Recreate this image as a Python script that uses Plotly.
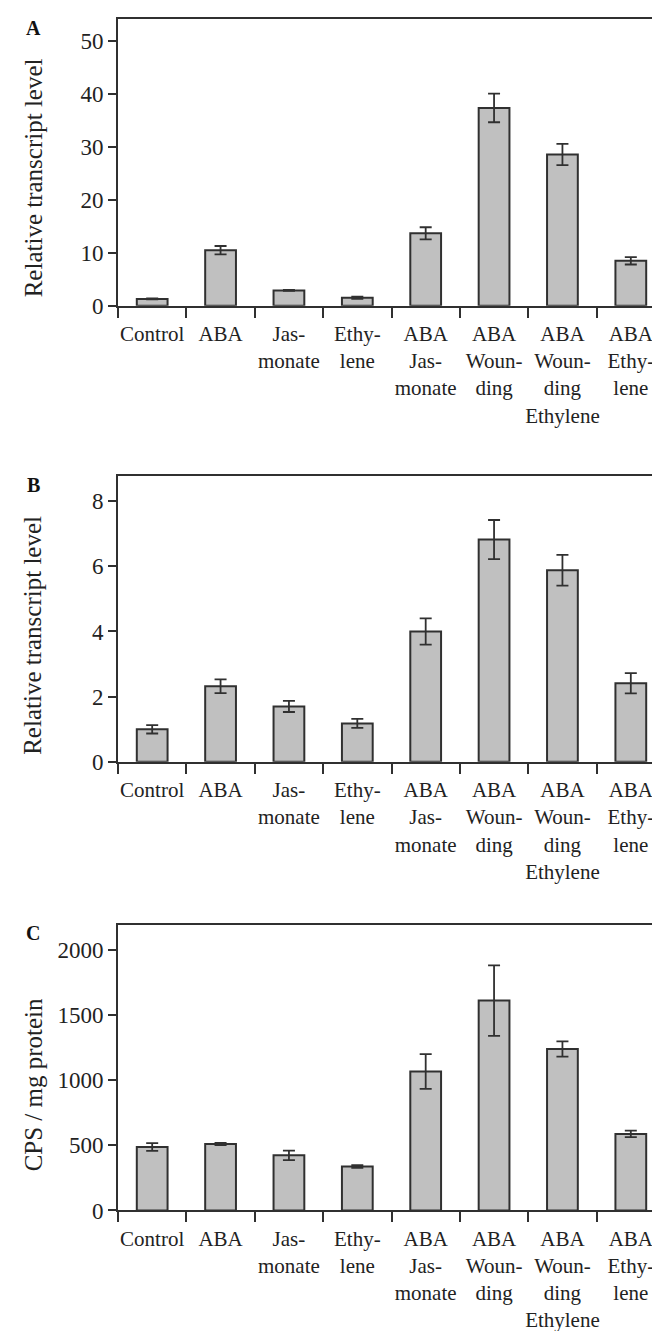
import plotly.graph_objects as go

categories = ["Control", "ABA", "Jasmonate", "Ethylene", "ABA Jasmonate",
              "ABA Wounding", "ABA Wounding Ethylene", "ABA Ethylene"]
tick_labels = ["Control", "ABA", "Jas-<br>monate", "Ethy-<br>lene",
               "ABA<br>Jas-<br>monate", "ABA<br>Woun-<br>ding",
               "ABA<br>Woun-<br>ding<br>Ethylene", "ABA<br>Ethy-<br>lene"]

a_vals = [1.3, 10.5, 2.9, 1.5, 13.7, 37.4, 28.6, 8.5]
a_err = [0.1, 0.8, 0.1, 0.2, 1.15, 2.7, 2.0, 0.7]
b_vals = [1.0, 2.32, 1.70, 1.18, 4.0, 6.82, 5.88, 2.41]
b_err = [0.13, 0.21, 0.17, 0.14, 0.40, 0.60, 0.47, 0.31]
c_vals = [487, 510, 423, 337, 1067, 1612, 1240, 588]
c_err = [30, 8, 37, 10, 133, 271, 58, 25]

panel_letters = ["A", "B", "C"]
y_titles = ["Relative transcript level", "Relative transcript level", "CPS / mg protein"]
y_ranges = [[0, 54.25], [0, 8.78], [0, 2195]]
y_dticks = [10, 2, 500]

W, H = 660, 1331
FONT = "Liberation Serif"
LINE = "#303030"

# pixel layout (top of frame, zero line)
tops = [11, 472.3, 925.7]
bottoms = [300.7, 761.3, 1214.3]
left_px, right_px = 110, 657
title_cy = [172, 634, 1088]
letter_cy = [20, 482, 934]

fig = go.Figure()
series = [(a_vals, a_err), (b_vals, b_err), (c_vals, c_err)]
for i, (vals, errs) in enumerate(series):
    n = i + 1
    fig.add_trace(go.Bar(
        x=tick_labels, y=vals,
        error_y=dict(type="data", array=errs, visible=True, color=LINE,
                     thickness=1.8, width=6),
        marker=dict(color="#c0c0c0", line=dict(color=LINE, width=2)),
        xaxis="x" if n == 1 else f"x{n}",
        yaxis="y" if n == 1 else f"y{n}",
        showlegend=False,
        hovertext=categories,
    ))

layout = dict(
    width=W, height=H,
    margin=dict(l=0, r=0, t=0, b=0),
    paper_bgcolor="white", plot_bgcolor="white",
    bargap=0.55,
    font=dict(family=FONT, size=22, color="#222222"),
    annotations=[],
)
for i in range(3):
    n = i + 1
    xk = "xaxis" if n == 1 else f"xaxis{n}"
    yk = "yaxis" if n == 1 else f"yaxis{n}"
    ya = "y" if n == 1 else f"y{n}"
    xa = "x" if n == 1 else f"x{n}"
    layout[xk] = dict(
        domain=[left_px / W, right_px / W],
        anchor=ya, type="category",
        showline=True, linecolor=LINE, linewidth=1.8, mirror=True,
        ticks="outside", ticklen=10, tickwidth=1.6, tickcolor=LINE,
        tickson="boundaries", showgrid=False, tickangle=0,
        ticklabelstandoff=8,
        tickfont=dict(family=FONT, size=21, color="#222222"),
        fixedrange=True,
    )
    layout[yk] = dict(
        domain=[1 - bottoms[i] / H, 1 - tops[i] / H],
        anchor=xa, range=y_ranges[i], dtick=y_dticks[i], tick0=0,
        showline=True, linecolor=LINE, linewidth=1.8, mirror=True,
        ticks="outside", ticklen=8, tickwidth=1.6, tickcolor=LINE,
        showgrid=False, zeroline=False,
        tickfont=dict(family=FONT, size=23, color="#222222"),
        fixedrange=True,
    )
    layout["annotations"].append(dict(
        text=y_titles[i], textangle=-90, showarrow=False,
        xref="paper", yref="paper", x=25 / W, y=1 - title_cy[i] / H,
        xanchor="center", yanchor="middle",
        font=dict(family=FONT, size=25, color="#222222"),
    ))
    layout["annotations"].append(dict(
        text="<b>" + panel_letters[i] + "</b>", showarrow=False,
        xref="paper", yref="paper", x=25 / W, y=1 - letter_cy[i] / H,
        xanchor="center", yanchor="middle",
        font=dict(family=FONT, size=20, color="#111111"),
    ))

fig.update_layout(**layout)
fig.write_html("out.html")
